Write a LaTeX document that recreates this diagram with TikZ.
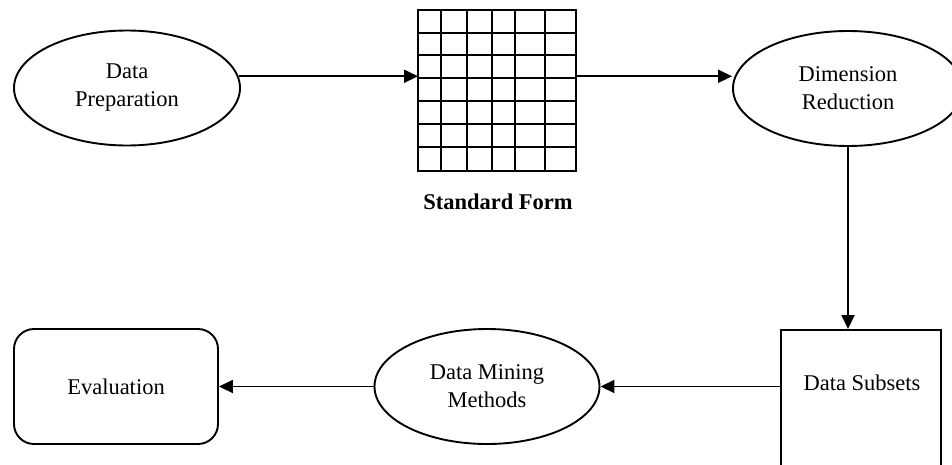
\documentclass[tikz,border=0pt]{standalone}
\usepackage{fontspec}
\setmainfont{Liberation Serif}
\usetikzlibrary{arrows.meta,shapes.geometric,calc}
\begin{document}
\begin{tikzpicture}[x=1pt,y=-1pt,
  every node/.style={font=\fontsize{22.5}{28}\selectfont},
  oval/.style={draw, ellipse, line width=1.9pt, minimum width=226pt,
    minimum height=115pt, inner sep=0pt, align=center},
  arr/.style={line width=1.8pt, -{Triangle[length=14pt,width=13pt]}},
  gridline/.style={line width=1.9pt}]
\useasboundingbox (0,0) rectangle (952,464);
\clip (0,0) rectangle (952,464);

% process stages
\node[oval] (dp) at (127,88) {Data\\Preparation};
\node[oval, minimum width=230pt] (dr) at (848,88.5) {Dimension\\Reduction};
\node[oval, minimum width=225pt] (dmm) at (487,386.5) {Data Mining\\Methods};
\node[draw, rounded corners=20pt, line width=1.9pt, minimum width=204pt,
  minimum height=115pt] (ev) at (116,386.5) {Evaluation};
\node[draw, line width=1.9pt, minimum width=160pt, minimum height=150pt,
  anchor=north west] (ds) at (780,329) {};
\node (dst) at (862,383) {Data Subsets};

% standard form table
\node[minimum width=158pt, minimum height=161pt, inner sep=0pt,
  anchor=north west] (grid) at (418,10) {};
\foreach \x in {441,467,492,515,545}
  \draw[gridline] (\x,10) -- (\x,171);
\foreach \y in {33,55,78,101,124,147}
  \draw[gridline] (418,\y) -- (576,\y);
\draw[gridline] (418,10) rectangle (576,171);
\node[font=\bfseries\fontsize{22.5}{28}\selectfont] (sf) at (498,202) {Standard Form};

% flow
\draw[arr] (dp.6) -- (dp.6 -| grid.west);
\draw[arr] (dp.6 -| grid.east) -- (dp.6 -| dr.west);
\draw[arr] (dr.south) -- (dr.south |- ds.north);
\draw[arr] (dmm.east -| ds.west) -- (dmm.east);
\draw[arr] (dmm.west) -- (ev.east);
\end{tikzpicture}
\end{document}
